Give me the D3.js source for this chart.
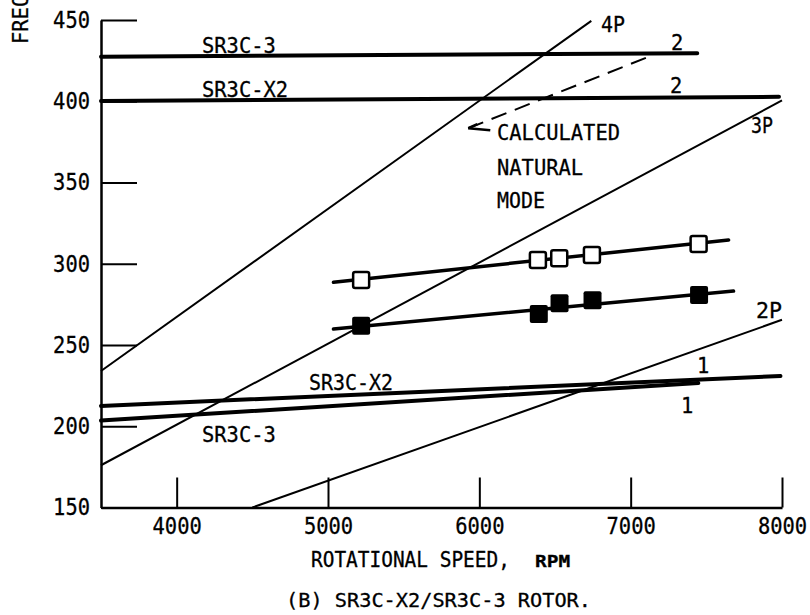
<!DOCTYPE html>
<html>
<head>
<meta charset="utf-8">
<script src="https://cdn.jsdelivr.net/npm/d3@7"></script>
<style>
  html, body { margin: 0; padding: 0; background: #fff; }
  svg { display: block; }
  text { font-family: 'DejaVu Sans Mono', 'Liberation Mono', monospace; fill: #000; }
</style>
</head>
<body>
<svg id="chart" width="810" height="615"></svg>
<script>
// ---- data ----
const rpmTicks = [4000, 5000, 6000, 7000, 8000];
const freqTicks = [150, 200, 250, 300, 350, 400, 450];

// measured points, [rpm, Hz]
const openRpm = [5219, 6387, 6528, 6744, 7449];
const openFreq = [290.0, 302.3, 303.4, 305.4, 312.2];
const filledRpm = [5219, 6393, 6530, 6748, 7452];
const filledFreq = [261.9, 269.1, 275.7, 277.5, 280.8];

// fitted lines through measured points
const openFit = [[5036, 288.6], [7647, 314.6]];
const filledFit = [[5036, 259.8], [7680, 283.2]];

// calculated natural modes
const sr3c3Mode2 = [[3500, 427.4], [7440, 429.6]];
const sr3cx2Mode2 = [[3500, 400.2], [7980, 402.7]];
const sr3cx2Mode1 = [[3500, 212.5], [7990, 230.9]];
const sr3c3Mode1 = [[3500, 203.5], [7447, 226.6]];

// per-rev excitation lines
const perRev4P = [[3500, 234], [6740, 449.5]];
const perRev3P = [[3500, 176], [8000, 400.5]];
const perRev2P = [[4500, 150], [8000, 265.5]];

// leader from "calculated natural mode" label
const calcLeader = [[5927, 383.4], [7150, 428.5]];

// ---- drawing ----
const FONT = "'DejaVu Sans Mono', 'Liberation Mono', monospace";
const svg = d3.select('#chart');
svg.append('rect').attr('width', 810).attr('height', 615).attr('fill', '#fff');

const x = d3.scaleLinear().domain([3500, 8000]).range([101, 782]);
const y = d3.scaleLinear().domain([150, 450]).range([507.5, 20]);

const line = d3.line().x(d => x(d[0])).y(d => y(d[1]));

// axes
const yAxis = d3.axisLeft(y).tickValues(freqTicks).tickSizeInner(-36).tickSizeOuter(0).tickPadding(11);
const xAxis = d3.axisBottom(x).tickValues(rpmTicks).tickSizeInner(-30).tickSizeOuter(0).tickPadding(10).tickFormat(d3.format('d'));

const gy = svg.append('g').attr('transform', 'translate(101,0)').call(yAxis);
const gx = svg.append('g').attr('transform', 'translate(0,507.5)').call(xAxis);
[gy, gx].forEach(g => {
  g.select('.domain').attr('stroke', '#000').attr('stroke-width', 2.5);
  g.selectAll('.tick line').attr('stroke', '#000').attr('stroke-width', 2);
  g.selectAll('.tick text').attr('font-size', 23)
    .attr('font-family', FONT).attr('fill', '#000')
    .attr('stroke', '#000').attr('stroke-width', 0.3)
    .attr('lengthAdjust', 'spacingAndGlyphs')
    .attr('textLength', function () { return this.textContent.length * 12.3; });
});

// per-rev lines
[perRev4P, perRev3P, perRev2P].forEach(p => {
  svg.append('path').datum(p).attr('d', line).attr('fill', 'none')
    .attr('stroke', '#000').attr('stroke-width', 2);
});

// mode lines
[sr3c3Mode2, sr3cx2Mode2, sr3cx2Mode1, sr3c3Mode1].forEach(p => {
  svg.append('path').datum(p).attr('d', line).attr('fill', 'none')
    .attr('stroke', '#000').attr('stroke-width', 4).attr('stroke-linecap', 'round');
});

// dashed leader with arrow tail
const mk = svg.append('defs').append('marker')
  .attr('id', 'arr').attr('refX', 0).attr('refY', 0)
  .attr('markerWidth', 30).attr('markerHeight', 10).attr('markerUnits', 'userSpaceOnUse')
  .attr('orient', '0').style('overflow', 'visible');
mk.append('path').attr('d', 'M0,0 L22,2').attr('fill', 'none')
  .attr('stroke', '#000').attr('stroke-width', 2.5);
mk.append('path').attr('d', 'M0,0 L9,-4').attr('fill', 'none')
  .attr('stroke', '#000').attr('stroke-width', 2.5);
svg.append('path').datum(calcLeader).attr('d', line).attr('fill', 'none')
  .attr('stroke', '#000').attr('stroke-width', 2).attr('stroke-dasharray', '16,9')
  .attr('marker-start', 'url(#arr)');

// fit lines
[openFit, filledFit].forEach(p => {
  svg.append('path').datum(p).attr('d', line).attr('fill', 'none')
    .attr('stroke', '#000').attr('stroke-width', 3.5).attr('stroke-linecap', 'round');
});

// markers
const s = 16;
svg.append('g').selectAll('rect').data(d3.range(openRpm.length)).join('rect')
  .attr('x', i => x(openRpm[i]) - s / 2).attr('y', i => y(openFreq[i]) - s / 2)
  .attr('width', s).attr('height', s).attr('rx', 2)
  .attr('fill', '#fff').attr('stroke', '#000').attr('stroke-width', 2.5);
svg.append('g').selectAll('rect').data(d3.range(filledRpm.length)).join('rect')
  .attr('x', i => x(filledRpm[i]) - (s + 2) / 2).attr('y', i => y(filledFreq[i]) - (s + 2) / 2)
  .attr('width', s + 2).attr('height', s + 2).attr('rx', 2)
  .attr('fill', '#000');

// annotations: text, left x, baseline y, width per char, font size
function label(t, px, py, adv, size) {
  return svg.append('text').attr('x', px).attr('y', py).attr('font-size', size || 22)
    .attr('stroke', '#000').attr('stroke-width', 0.3)
    .attr('textLength', t.length * (adv || 12.3)).attr('lengthAdjust', 'spacingAndGlyphs')
    .text(t);
}
label('SR3C-3', 202, 53);
label('SR3C-X2', 202, 97);
label('2', 671, 50);
label('2', 670, 93);
label('4P', 601, 32, 12);
label('3P', 751, 133, 11);
label('CALCULATED', 497, 140);
label('NATURAL', 497, 175);
label('MODE', 497, 208, 12);
label('2P', 756, 318, 13);
label('1', 697, 373);
label('1', 681, 413);
label('SR3C-X2', 309, 390, 12);
label('SR3C-3', 202, 442);

// axis titles
label('ROTATIONAL SPEED,', 311, 567, 11.7, 21);
label('RPM', 535, 567, 11.7, 16).attr('font-weight', 'bold');

svg.append('text').attr('transform', 'translate(28,44) rotate(-90)')
  .attr('font-size', 22).attr('stroke', '#000').attr('stroke-width', 0.3)
  .attr('textLength', 13 * 12.3).attr('lengthAdjust', 'spacingAndGlyphs')
  .text('FREQUENCY, Hz');

label('(B) SR3C-X2/SR3C-3 ROTOR.', 286, 607, 12.2, 20);
</script>
</body>
</html>
